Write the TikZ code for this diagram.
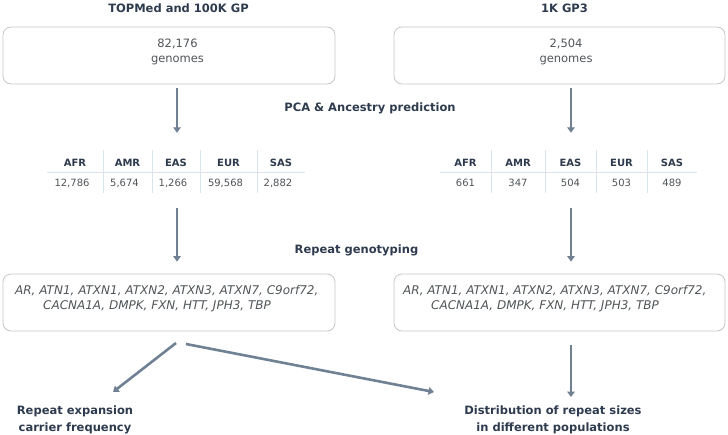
\documentclass[tikz,border=0pt]{standalone}
\usepackage{fontspec}
\setmainfont{DejaVu Sans}
\usepackage{tikz}
\usetikzlibrary{arrows.meta,positioning,calc}
\definecolor{InkNavy}{HTML}{2E3B4E}
\definecolor{TextGray}{HTML}{505558}
\definecolor{ArrowSlate}{HTML}{6F8193}
\definecolor{FrameGray}{HTML}{C6C6C6}
\definecolor{RuleBlue}{HTML}{DCE3EA}

\begin{document}
\begin{tikzpicture}[x=1pt,y=-1pt,
        every node/.style={inner sep=0pt},
        heading/.style={font=\fontsize{11.5}{17}\selectfont\bfseries,text=InkNavy,align=center,anchor=base},
        panel/.style={draw=FrameGray,line width=0.8pt,rounded corners=8pt,minimum height=57pt},
        count/.style={font=\fontsize{11.5}{15}\selectfont,text=TextGray,align=center,anchor=base},
        genes/.style={font=\fontsize{12}{15}\selectfont\itshape,text=TextGray,align=left,anchor=base west},
        hdr/.style={font=\fontsize{10}{12}\selectfont\bfseries,text=InkNavy,anchor=base},
        val/.style={font=\fontsize{10}{12}\selectfont,text=TextGray,anchor=base},
        rule/.style={draw=RuleBlue,line width=0.8pt},
        flow/.style={draw=ArrowSlate,line width=2.6pt,-{Triangle[width=7.5pt,length=5.5pt]}}
      ]
        \useasboundingbox (0,0) rectangle (728,434);
        % cohorts
        \node[heading] (srcL) at (178.5,12) {TOPMed and 100K GP};
        \node[heading] (srcR) at (564.5,12) {1K GP3};
        \node[panel,minimum width=332pt] (boxL) at (169,55.5) {};
        \node[panel,minimum width=331pt] (boxR) at (559.5,55.5) {};
        \node[count] (numL) at (177.5,62) {82,176\\genomes};
        \node[count] (numR) at (566,62) {2,504\\genomes};
        \node[heading] (pca) at (370,111) {PCA \& Ancestry prediction};
        % ancestry tables
        \node[minimum width=258pt,minimum height=43pt] (tabL) at (177,171.5) {};
        \node[minimum width=257pt,minimum height=43pt] (tabR) at (571,171.5) {};
        \foreach \cx/\pop/\num [count=\i] in {75/AFR/{12,786},127.5/AMR/{5,674},176/EAS/{1,266},228.5/EUR/{59,568},281/SAS/{2,882}}{
          \node[hdr] (hL\i) at (\cx,166) {\pop};
          \node[val] (vL\i) at (\cx-3,186) {\num};
        }
        \foreach \cx/\pop/\num [count=\i] in {465.5/AFR/661,518/AMR/347,570.5/EAS/504,621.5/EUR/503,672/SAS/489}{
          \node[hdr] (hR\i) at (\cx,166) {\pop};
          \node[val] (vR\i) at (\cx,186) {\num};
        }
        \draw[rule] (47,172) -- (305,172);
        \draw[rule] (440,172) -- (697,172);
        \foreach \sx in {103,152,200,257,491,545,596,647}
          \draw[rule] (\sx,150) -- (\sx,193);
        % genotyping
        \node[heading] (geno) at (356.5,253) {Repeat genotyping};
        \node[panel,minimum width=332pt] (genesL) at (169,302.5) {};
        \node[panel,minimum width=331pt] (genesR) at (559.5,302.5) {};
        \node[genes] (lociL) at (15,309) {AR, ATN1, ATXN1, ATXN2, ATXN3, ATXN7, C9orf72,\\\hspace*{28pt}CACNA1A, DMPK, FXN, HTT, JPH3, TBP};
        \node[genes] (lociR) at (403,309) {AR, ATN1, ATXN1, ATXN2, ATXN3, ATXN7, C9orf72,\\\hspace*{28pt}CACNA1A, DMPK, FXN, HTT, JPH3, TBP};
        % outcomes
        \node[heading] (carrier) at (75,431) {Repeat expansion\\carrier frequency};
        \node[heading] (distrib) at (553,431) {Distribution of repeat sizes\\in different populations};
        \coordinate (forkA) at (176,343);
        \coordinate (tipA) at (113,392);
        \coordinate (forkB) at (186,344);
        \coordinate (tipB) at (434,392);
        % arrows
        \draw[flow,shorten <=4pt,shorten >=17pt] (boxL.south -| tabL) -- (tabL.north);
        \draw[flow,shorten <=4pt,shorten >=17pt] (boxR.south -| tabR) -- (tabR.north);
        \draw[flow,shorten <=15pt,shorten >=12pt] (tabL.south) -- (tabL.south |- genesL.north);
        \draw[flow,shorten <=15pt,shorten >=12pt] (tabR.south) -- (tabR.south |- genesR.north);
        \draw[flow,shorten <=14pt,shorten >=8pt] (tabR |- genesR.south) -- (tabR |- distrib.north);
        \draw[flow] (forkA) -- (tipA);
        \draw[flow] (forkB) -- (tipB);
      \end{tikzpicture}
\end{document}
